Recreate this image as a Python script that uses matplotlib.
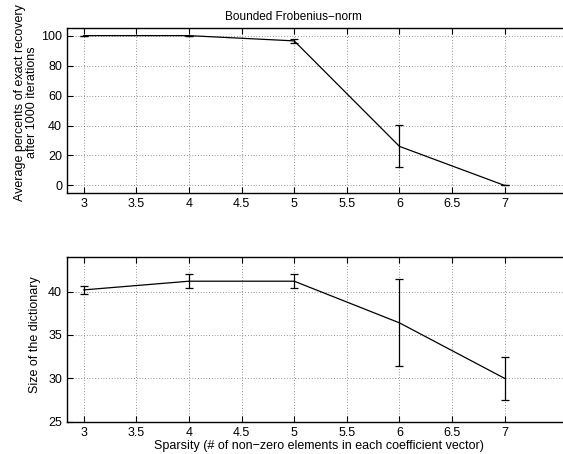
import matplotlib
matplotlib.use("Agg")
import matplotlib.pyplot as plt

sparsity = [3, 4, 5, 6, 7]
recovery_mean = [100, 100, 96.5, 26.1, 0]
recovery_err = [0, 0, 1.1, 14.0, 0]
dict_size_mean = [40.2, 41.2, 41.2, 36.4, 30.0]
dict_size_err = [0.43, 0.8, 0.8, 5.0, 2.5]

xticks = [3, 3.5, 4, 4.5, 5, 5.5, 6, 6.5, 7]
xticklabels = ["3", "3.5", "4", "4.5", "5", "5.5", "6", "6.5", "7"]

plt.rcParams["font.family"] = ["Liberation Sans", "DejaVu Sans"]
plt.rcParams["font.size"] = 9

fig = plt.figure(figsize=(5.63, 4.54), dpi=100)
ax1 = fig.add_axes([0.119, 0.575, 0.895, 0.363])
ax2 = fig.add_axes([0.119, 0.0711, 0.895, 0.363])


def style(ax):
    ax.set_xlim(2.84, 7.63)
    ax.set_xticks(xticks)
    ax.set_xticklabels(xticklabels)
    ax.tick_params(direction="in", length=4, width=0.8, top=True, right=True,
                   labelsize=9, colors="black", pad=3.5)
    ax.grid(True, linestyle=(0, (1, 3)), color="black", linewidth=0.5, alpha=0.8)
    for s in ax.spines.values():
        s.set_linewidth(1.0)


ax1.errorbar(sparsity, recovery_mean, yerr=recovery_err, color="black",
             linewidth=0.9, elinewidth=0.9, capsize=2.7, capthick=0.9)
style(ax1)
ax1.set_ylim(-5, 105)
ax1.set_yticks([0, 20, 40, 60, 80, 100])
ax1.set_title("Bounded Frobenius\u2212norm", fontsize=8.5, pad=6, x=0.45)
ax1.set_ylabel("Average percents of exact recovery\nafter 1000 iterations",
               fontsize=9, linespacing=1.0, labelpad=2)
ax1.yaxis.label.set_y(0.55)

ax2.errorbar(sparsity, dict_size_mean, yerr=dict_size_err, color="black",
             linewidth=0.9, elinewidth=0.9, capsize=2.7, capthick=0.9)
style(ax2)
ax2.set_ylim(25, 44)
ax2.set_yticks([25, 30, 35, 40])
ax2.set_ylabel("Size of the dictionary", fontsize=9, labelpad=5)
ax2.yaxis.label.set_y(0.53)
ax2.set_xlabel("Sparsity (# of non\u2212zero elements in each coefficient vector)",
               fontsize=9, labelpad=1)

fig.savefig("out.png", dpi=100)
